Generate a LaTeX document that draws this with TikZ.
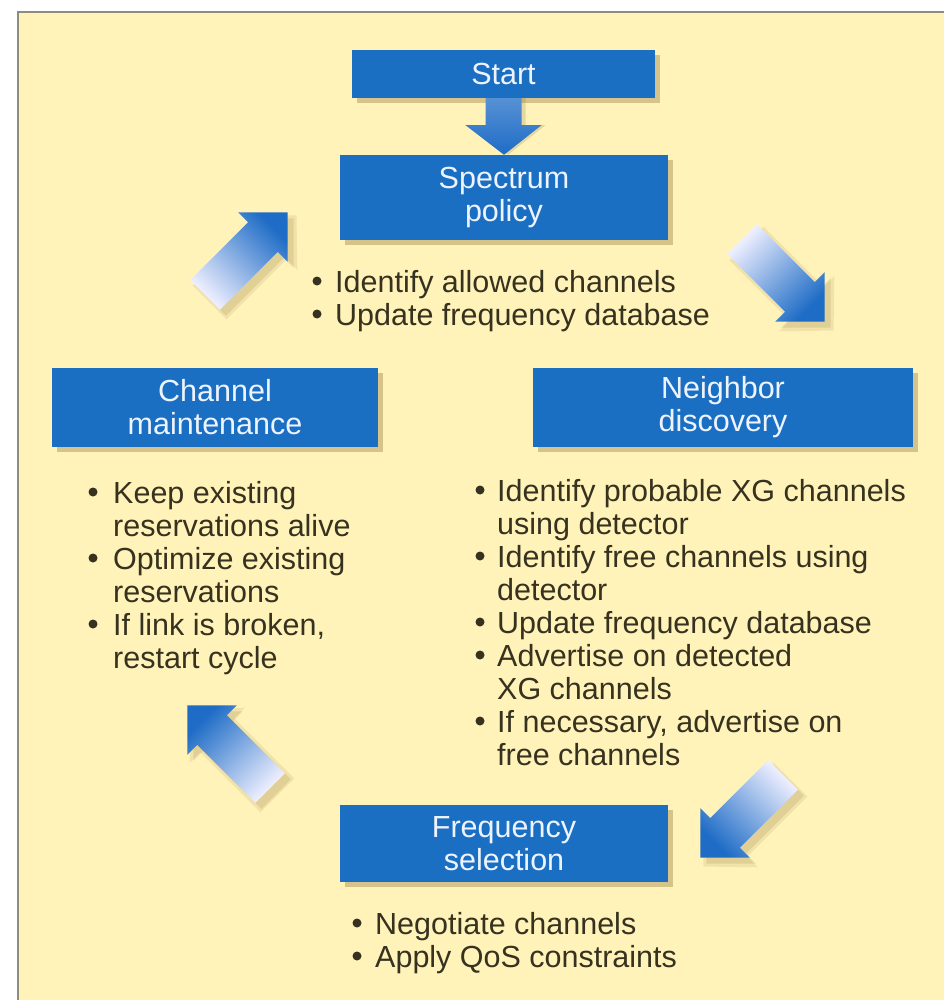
\documentclass[tikz,border=0pt]{standalone}
\usepackage{fontspec}
\setmainfont{Liberation Sans}
\usetikzlibrary{shadows,calc}
\definecolor{bg}{HTML}{FFF3BA}
\definecolor{boxblue}{HTML}{1B6FC2}
\definecolor{headblue}{HTML}{1E6CC6}
\definecolor{tailblue}{HTML}{F0F0FF}
\definecolor{txt}{HTML}{36321F}
\definecolor{boxtxt}{HTML}{EEF4FF}
\definecolor{shadowc}{HTML}{8A6A30}
\definecolor{framec}{HTML}{8C8C80}
\tikzset{
  bluebox/.style={fill=boxblue, text=boxtxt, inner sep=0pt, align=center,
     font=\fontsize{30.5}{33}\selectfont,
     drop shadow={shadow xshift=5pt, shadow yshift=-5pt, opacity=0.35, fill=shadowc}},
  bullets/.style={text=txt, inner sep=0pt, anchor=base west, font=\fontsize{30.5}{33}\selectfont},
  dot/.style={fill=txt},
  arrowshadow/.pic={
    \fill[shadowc, opacity=0.12] (-2,-24) -- (83,-24) -- (83,-39) -- (121,0) -- (83,39) -- (83,24) -- (-2,24) -- cycle;
    \fill[shadowc, opacity=0.15] (0,-21) -- (82,-21) -- (82,-35) -- (117,0) -- (82,35) -- (82,21) -- (0,21) -- cycle;
  },
  fatarrow/.pic={
    \shade[top color=headblue, bottom color=tailblue, shading angle=#1]
      (0,-21) -- (82,-21) -- (82,-35) -- (117,0) -- (82,35) -- (82,21) -- (0,21) -- cycle;
  }
}
\begin{document}
\begin{tikzpicture}[x=1pt, y=-1pt]
\useasboundingbox (0,0) rectangle (944,1000);
\fill[white] (0,0) rectangle (944,1000);
\fill[bg] (18,12) rectangle (944,1000);
\draw[framec, line width=2.5pt] (18,1000) -- (18,12) -- (944,12);

% boxes
\node[bluebox, minimum width=303pt, minimum height=48pt] (start) at (503.5,74) {Start};
\node[bluebox, minimum width=328pt, minimum height=85pt] (spec) at (504,197.5) {Spectrum\\policy};
\node[bluebox, minimum width=326pt, minimum height=79pt] (maint) at (215,407.5) {Channel\\maintenance};
\node[bluebox, minimum width=380pt, minimum height=79pt] (neigh) at (723,407.5) {Neighbor\\discovery};
\node[bluebox, minimum width=328pt, minimum height=77pt] (freq) at (504,843.5) {Frequency\\selection};

% down arrow Start -> Spectrum policy
\fill[shadowc, opacity=0.2] ($(start.south)+(-14,0)$) -- ($(start.south)+(22,0)$) -- ($(start.south)+(22,27)$) -- ($(start.south)+(42,27)$) -- ($(spec.north)+(4,0)$) -- ($(start.south)+(-34,27)$) -- ($(start.south)+(-14,27)$) -- cycle;
\shade[top color=headblue!75!white, bottom color=headblue]
  ($(start.south)+(-18,0)$) -- ($(start.south)+(18,0)$) -- ($(start.south)+(18,27)$) -- ($(start.south)+(38,27)$) -- (spec.north) -- ($(start.south)+(-38,27)$) -- ($(start.south)+(-18,27)$) -- cycle;

% cycle arrows
\pic[rotate=45] at (211,301) {arrowshadow};
\pic[rotate=45] at (205,295) {fatarrow=-45};
\pic[rotate=-45] at (748,245) {arrowshadow};
\pic[rotate=-45] at (742,239) {fatarrow=-135};
\pic[rotate=-135] at (789,781) {arrowshadow};
\pic[rotate=-135] at (783,775) {fatarrow=135};
\pic[rotate=135] at (276,794) {arrowshadow};
\pic[rotate=135] at (270,788) {fatarrow=45};

% bullet lists
\node[bullets] (specl) at (335,292) {\begin{tabular}[t]{@{}l@{}}
Identify allowed channels\\
Update frequency database\end{tabular}};
\node[bullets] (maintl) at (113,503) {\begin{tabular}[t]{@{}l@{}}
Keep existing\\
reservations alive\\
Optimize existing\\
reservations\\
If link is broken,\\
restart cycle\end{tabular}};
\node[bullets] (neighl) at (497,501) {\begin{tabular}[t]{@{}l@{}}
Identify probable XG channels\\
using detector\\
Identify free channels using\\
detector\\
Update frequency database\\
Advertise on detected\\
XG channels\\
If necessary, advertise on\\
free channels\end{tabular}};
\node[bullets] (freql) at (375,934) {\begin{tabular}[t]{@{}l@{}}
Negotiate channels\\
Apply QoS constraints\end{tabular}};

% bullet dots
\foreach \r in {0,1} \fill[dot] ($(specl.base west)+(-18,{33*\r-11})$) circle (4.5);
\foreach \r in {0,2,4} \fill[dot] ($(maintl.base west)+(-20,{33*\r-11})$) circle (4.5);
\foreach \r in {0,2,4,5,7} \fill[dot] ($(neighl.base west)+(-17,{33*\r-11})$) circle (4.5);
\foreach \r in {0,1} \fill[dot] ($(freql.base west)+(-18,{33*\r-11})$) circle (4.5);
\end{tikzpicture}
\end{document}
